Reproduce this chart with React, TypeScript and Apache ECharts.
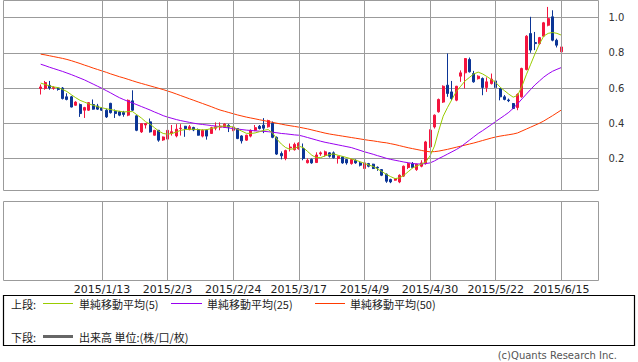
import React, { useEffect, useRef } from "react";
import * as echarts from "echarts";

// x-axis tick labels (every 15th trading slot, starting at slot 14)
const dateTicks = ["2015/1/13", "2015/2/3", "2015/2/24", "2015/3/17", "2015/4/9", "2015/4/30", "2015/5/22", "2015/6/15"];
const firstTick = 14;
const tickStep = 15;
const padSlots = 8;
const yTicks = [0.2, 0.4, 0.6, 0.8, 1.0];

// [open, close, low, high]
const ohlc: number[][] = [
  [0.597, 0.606, 0.563, 0.62], [0.597, 0.631, 0.59, 0.64], [0.615, 0.6, 0.59, 0.64], [0.598, 0.603, 0.59, 0.61], [0.6, 0.592, 0.585, 0.605],
  [0.6, 0.54, 0.535, 0.605], [0.55, 0.535, 0.53, 0.57], [0.55, 0.492, 0.49, 0.555], [0.502, 0.52, 0.5, 0.525], [0.506, 0.455, 0.436, 0.512],
  [0.474, 0.489, 0.43, 0.493], [0.474, 0.517, 0.47, 0.52], [0.506, 0.48, 0.477, 0.535], [0.498, 0.48, 0.475, 0.51], [0.487, 0.474, 0.47, 0.49],
  [0.474, 0.436, 0.43, 0.483], [0.513, 0.46, 0.455, 0.516], [0.468, 0.455, 0.43, 0.478], [0.465, 0.446, 0.44, 0.47], [0.462, 0.45, 0.437, 0.47],
  [0.446, 0.53, 0.44, 0.535], [0.527, 0.474, 0.47, 0.587], [0.442, 0.36, 0.355, 0.445], [0.351, 0.398, 0.345, 0.4], [0.39, 0.398, 0.37, 0.4],
  [0.408, 0.351, 0.347, 0.427], [0.332, 0.36, 0.33, 0.362], [0.36, 0.304, 0.295, 0.362], [0.305, 0.322, 0.3, 0.325], [0.31, 0.36, 0.305, 0.365],
  [0.343, 0.352, 0.33, 0.39], [0.328, 0.366, 0.32, 0.395], [0.37, 0.372, 0.33, 0.395], [0.383, 0.37, 0.323, 0.385], [0.364, 0.38, 0.36, 0.39],
  [0.376, 0.362, 0.355, 0.38], [0.364, 0.332, 0.33, 0.37], [0.327, 0.36, 0.32, 0.365], [0.36, 0.327, 0.307, 0.365], [0.342, 0.375, 0.34, 0.38],
  [0.372, 0.38, 0.36, 0.405], [0.378, 0.384, 0.36, 0.405], [0.377, 0.395, 0.375, 0.4], [0.388, 0.378, 0.35, 0.395], [0.36, 0.378, 0.355, 0.38],
  [0.37, 0.313, 0.31, 0.372], [0.328, 0.3, 0.285, 0.332], [0.304, 0.332, 0.3, 0.335], [0.327, 0.36, 0.32, 0.365], [0.36, 0.375, 0.355, 0.39],
  [0.383, 0.37, 0.365, 0.39], [0.389, 0.372, 0.344, 0.429], [0.38, 0.415, 0.375, 0.42], [0.4, 0.32, 0.315, 0.41], [0.32, 0.225, 0.22, 0.325],
  [0.228, 0.215, 0.195, 0.24], [0.2, 0.245, 0.19, 0.25], [0.26, 0.265, 0.24, 0.285], [0.25, 0.28, 0.245, 0.29], [0.255, 0.287, 0.25, 0.292],
  [0.257, 0.2, 0.19, 0.285], [0.176, 0.19, 0.172, 0.2], [0.195, 0.175, 0.17, 0.2], [0.177, 0.22, 0.175, 0.235], [0.226, 0.232, 0.215, 0.24],
  [0.219, 0.238, 0.21, 0.245], [0.232, 0.213, 0.205, 0.235], [0.232, 0.204, 0.2, 0.24], [0.2, 0.213, 0.171, 0.215], [0.209, 0.175, 0.17, 0.212],
  [0.194, 0.175, 0.165, 0.196], [0.171, 0.194, 0.165, 0.198], [0.19, 0.175, 0.17, 0.195], [0.175, 0.162, 0.155, 0.18], [0.143, 0.175, 0.14, 0.18],
  [0.171, 0.156, 0.15, 0.175], [0.168, 0.143, 0.14, 0.17], [0.15, 0.146, 0.13, 0.155], [0.137, 0.105, 0.1, 0.14], [0.111, 0.071, 0.062, 0.115],
  [0.081, 0.067, 0.06, 0.085], [0.077, 0.086, 0.074, 0.088], [0.067, 0.105, 0.06, 0.11], [0.1, 0.156, 0.095, 0.16], [0.149, 0.171, 0.14, 0.175],
  [0.171, 0.149, 0.145, 0.18], [0.137, 0.168, 0.13, 0.17], [0.156, 0.175, 0.15, 0.19], [0.171, 0.294, 0.165, 0.3], [0.266, 0.361, 0.26, 0.365],
  [0.379, 0.446, 0.37, 0.45], [0.465, 0.535, 0.46, 0.54], [0.52, 0.61, 0.515, 0.615], [0.616, 0.569, 0.55, 0.796], [0.578, 0.54, 0.531, 0.64],
  [0.531, 0.61, 0.525, 0.612], [0.667, 0.686, 0.635, 0.7], [0.686, 0.767, 0.597, 0.77], [0.762, 0.692, 0.688, 0.773], [0.682, 0.635, 0.63, 0.697],
  [0.653, 0.667, 0.648, 0.672], [0.654, 0.603, 0.559, 0.66], [0.603, 0.635, 0.578, 0.66], [0.625, 0.65, 0.62, 0.682], [0.64, 0.603, 0.59, 0.645],
  [0.597, 0.55, 0.53, 0.6], [0.55, 0.535, 0.53, 0.56], [0.532, 0.528, 0.52, 0.54], [0.512, 0.484, 0.48, 0.515], [0.489, 0.563, 0.474, 0.57],
  [0.55, 0.711, 0.545, 0.715], [0.705, 0.894, 0.7, 0.9], [0.909, 0.815, 0.8, 1.004], [0.858, 0.852, 0.815, 0.918], [0.852, 0.886, 0.845, 0.89],
  [0.894, 0.97, 0.89, 0.975], [0.956, 0.994, 0.95, 1.06], [1.004, 0.871, 0.865, 1.041], [0.871, 0.843, 0.83, 0.88], [0.805, 0.833, 0.78, 0.852],
];

const ma5 = [
  0.628, 0.62, 0.612, 0.606, 0.602, 0.592, 0.58, 0.562, 0.545, 0.53,
  0.52, 0.51, 0.502, 0.494, 0.488, 0.482, 0.478, 0.472, 0.468, 0.464,
  0.466, 0.466, 0.448, 0.43, 0.408, 0.395, 0.375, 0.355, 0.342, 0.338,
  0.342, 0.35, 0.36, 0.364, 0.366, 0.366, 0.364, 0.362, 0.364, 0.37,
  0.376, 0.382, 0.384, 0.383, 0.378, 0.366, 0.355, 0.343, 0.342, 0.345,
  0.352, 0.36, 0.364, 0.345, 0.31, 0.282, 0.262, 0.252, 0.256, 0.27,
  0.262, 0.24, 0.218, 0.205, 0.205, 0.215, 0.222, 0.226, 0.218, 0.212,
  0.205, 0.198, 0.19, 0.182, 0.172, 0.163, 0.155, 0.14, 0.126, 0.11,
  0.097, 0.086, 0.09, 0.104, 0.125, 0.146, 0.158, 0.168, 0.18, 0.215,
  0.27, 0.36, 0.44, 0.49, 0.535, 0.58, 0.61, 0.64, 0.66, 0.68,
  0.69, 0.68, 0.665, 0.648, 0.632, 0.605, 0.585, 0.565, 0.548, 0.558,
  0.61, 0.675, 0.735, 0.795, 0.85, 0.895, 0.91, 0.915, 0.91, 0.9,
];

const ma25 = [
  0.735, 0.727, 0.718, 0.71, 0.702, 0.694, 0.685, 0.676, 0.666, 0.656,
  0.646, 0.634, 0.622, 0.61, 0.598, 0.585, 0.572, 0.558, 0.545, 0.534,
  0.524, 0.515, 0.505, 0.495, 0.485, 0.475, 0.464, 0.454, 0.443, 0.435,
  0.428, 0.421, 0.415, 0.41, 0.405, 0.4, 0.396, 0.393, 0.39, 0.387,
  0.384, 0.381, 0.377, 0.373, 0.37, 0.367, 0.364, 0.361, 0.359, 0.357,
  0.355, 0.354, 0.352, 0.349, 0.346, 0.342, 0.34, 0.337, 0.334, 0.332,
  0.326, 0.319, 0.312, 0.305, 0.298, 0.292, 0.287, 0.282, 0.277, 0.272,
  0.267, 0.262, 0.254, 0.246, 0.238, 0.231, 0.224, 0.216, 0.209, 0.201,
  0.195, 0.19, 0.185, 0.18, 0.176, 0.172, 0.169, 0.169, 0.171, 0.175,
  0.186, 0.2, 0.212, 0.225, 0.238, 0.251, 0.266, 0.285, 0.304, 0.323,
  0.342, 0.358, 0.375, 0.392, 0.41, 0.427, 0.444, 0.462, 0.485, 0.51,
  0.538, 0.565, 0.592, 0.618, 0.64, 0.662, 0.68, 0.695, 0.706, 0.716,
];

const ma50 = [
  0.792, 0.788, 0.783, 0.778, 0.773, 0.768, 0.762, 0.755, 0.747, 0.739,
  0.73, 0.722, 0.713, 0.705, 0.697, 0.689, 0.68, 0.672, 0.664, 0.657,
  0.649, 0.641, 0.633, 0.626, 0.619, 0.612, 0.605, 0.598, 0.591, 0.583,
  0.575, 0.566, 0.557, 0.548, 0.539, 0.53, 0.521, 0.512, 0.503, 0.494,
  0.484, 0.475, 0.468, 0.461, 0.454, 0.447, 0.441, 0.435, 0.43, 0.425,
  0.42, 0.415, 0.41, 0.405, 0.4, 0.395, 0.39, 0.386, 0.382, 0.378,
  0.373, 0.368, 0.362, 0.356, 0.35, 0.344, 0.339, 0.335, 0.331, 0.327,
  0.323, 0.319, 0.315, 0.311, 0.307, 0.303, 0.3, 0.296, 0.292, 0.289,
  0.284, 0.279, 0.273, 0.267, 0.261, 0.256, 0.251, 0.246, 0.241, 0.238,
  0.239, 0.242, 0.247, 0.252, 0.258, 0.264, 0.27, 0.276, 0.282, 0.288,
  0.295, 0.302, 0.309, 0.316, 0.322, 0.327, 0.331, 0.335, 0.339, 0.345,
  0.356, 0.367, 0.378, 0.389, 0.4, 0.413, 0.428, 0.443, 0.459, 0.475,
];

const UP = "#f3143e";
const DOWN = "#0b3596";
const C_MA5 = "#99cc00";
const C_MA25 = "#9a00f0";
const C_MA50 = "#ff3a00";
const GRID = "#9b9b9b";
const JP = "'Noto Sans CJK JP', 'Noto Sans', sans-serif";
const LAT = "'DejaVu Sans', sans-serif";

export default function App() {
  const ref = useRef<HTMLDivElement>(null);
  useEffect(() => {
    if (!ref.current) return;
    const chart = echarts.init(ref.current, null, { renderer: "svg" });
    const n = ohlc.length;
    const total = n + padSlots * 2;
    const cats = Array.from({ length: total }, (_, k) => {
      const i = k - padSlots;
      if (i >= firstTick && i < n && (i - firstTick) % tickStep === 0) {
        return dateTicks[(i - firstTick) / tickStep];
      }
      return "_" + k;
    });
    const padded = (arr: any[]) => [
      ...Array(padSlots).fill("-"),
      ...arr,
      ...Array(padSlots).fill("-"),
    ];
    const vLines = {
      silent: true,
      symbol: ["none", "none"],
      label: { show: false },
      lineStyle: { color: GRID, type: "solid", width: 1 },
      emphasis: { disabled: true },
      animation: false,
      data: dateTicks.map((d) => ({ xAxis: d })),
    };
    const hideName = (v: string) => (v.startsWith("_") ? "" : v);

    const legendY1 = 303.5;
    const legendY2 = 336.5;
    const txt = (x: number, y: number, text: string) => ({
      type: "text",
      x,
      y,
      style: { text, fill: "#222", fontSize: 11, fontFamily: JP, verticalAlign: "middle" },
    });
    const seg = (x1: number, x2: number, y: number, color: string, w: number) => ({
      type: "line",
      shape: { x1, y1: y, x2, y2: y },
      style: { stroke: color, lineWidth: w },
    });

    chart.setOption({
      animation: false,
      backgroundColor: "#ffffff",
      grid: [
        { left: 3.5, top: 0.5, width: 595, height: 190, show: true, borderColor: GRID, borderWidth: 1 },
        { left: 3.5, top: 201.5, width: 595, height: 79, show: true, borderColor: GRID, borderWidth: 1 },
      ],
      xAxis: [
        {
          type: "category", gridIndex: 0, data: cats, boundaryGap: true,
          axisLine: { show: false }, axisTick: { show: false }, axisLabel: { show: false }, splitLine: { show: false },
        },
        {
          type: "category", gridIndex: 1, data: cats, boundaryGap: true,
          axisLine: { show: false }, axisTick: { show: false }, splitLine: { show: false },
          axisLabel: {
            show: true, interval: 0, formatter: hideName, margin: 3,
            fontSize: 11, fontFamily: LAT, color: "#222",
          },
        },
      ],
      yAxis: [
        {
          type: "value", gridIndex: 0, position: "right", min: 0.0184, max: 1.0965,
          axisLine: { show: false },
          axisTick: { show: false, customValues: yTicks },
          axisLabel: {
            show: true, customValues: yTicks, margin: 10, fontSize: 10, fontFamily: LAT, color: "#333",
            formatter: (v: number) => v.toFixed(1),
          },
          splitLine: { show: true, lineStyle: { color: GRID, width: 1 } },
        },
        {
          type: "value", gridIndex: 1, min: 0, max: 1,
          axisLine: { show: false }, axisTick: { show: false }, axisLabel: { show: false }, splitLine: { show: false },
        },
      ],
      series: [
        {
          type: "candlestick", name: "price", xAxisIndex: 0, yAxisIndex: 0,
          data: padded(ohlc), barWidth: 2.6, z: 2,
          itemStyle: { color: UP, color0: DOWN, borderColor: UP, borderColor0: DOWN, borderWidth: 1 },
          markLine: vLines,
        },
        {
          type: "line", name: "単純移動平均(50)", data: padded(ma50), showSymbol: false, z: 3,
          lineStyle: { color: C_MA50, width: 1 }, itemStyle: { color: C_MA50 },
        },
        {
          type: "line", name: "単純移動平均(25)", data: padded(ma25), showSymbol: false, z: 3,
          lineStyle: { color: C_MA25, width: 1 }, itemStyle: { color: C_MA25 },
        },
        {
          type: "line", name: "単純移動平均(5)", data: padded(ma5), showSymbol: false, z: 4,
          lineStyle: { color: C_MA5, width: 1 }, itemStyle: { color: C_MA5 },
        },
        {
          type: "line", name: "出来高", xAxisIndex: 1, yAxisIndex: 1,
          data: padded(Array(n).fill("-")), showSymbol: false,
          markLine: vLines,
        },
      ],
      graphic: [
        {
          type: "rect",
          shape: { x: 3.5, y: 295.5, width: 631, height: 50 },
          style: { fill: "none", stroke: "#000", lineWidth: 1.2 },
        },
        txt(11, legendY1, "上段:"),
        seg(43, 73, legendY1, C_MA5, 1),
        txt(79, legendY1, "単純移動平均(5)"),
        seg(171, 202, legendY1, C_MA25, 1),
        txt(207, legendY1, "単純移動平均(25)"),
        seg(315, 345, legendY1, C_MA50, 1),
        txt(350, legendY1, "単純移動平均(50)"),
        txt(11, legendY2, "下段:"),
        seg(43, 73, legendY2, "#666666", 3),
        txt(79, legendY2, "出来高 単位:(株/口/枚)"),
        {
          type: "text", x: 617, y: 355.5,
          style: {
            text: "(c)Quants Research Inc.", fill: "#555", fontSize: 10, fontFamily: LAT,
            align: "right", verticalAlign: "middle",
          },
        },
      ],
    });
    return () => chart.dispose();
  }, []);
  return (
    <div
      ref={ref}
      style={{ position: "absolute", left: 0, top: 0, width: 638, height: 362, background: "#fff" }}
    />
  );
}
